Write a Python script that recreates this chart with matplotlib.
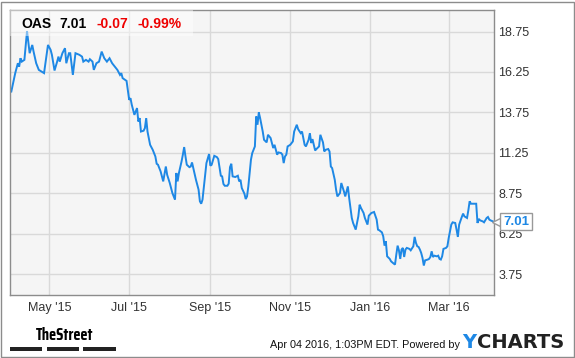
import pandas as pd
import matplotlib
matplotlib.use('Agg')
import matplotlib.pyplot as plt
import matplotlib.dates as mdates
from matplotlib.patches import Rectangle

plt.rcParams['font.family'] = ['Liberation Sans', 'DejaVu Sans']

# OAS daily close (days counted from 2015-04-01)
start_date = '2015-04-01'
day_offset = [
    1, 4, 6, 7, 8, 9, 11, 12, 13, 15, 17, 18, 20, 22, 24, 26, 29, 31, 32, 34,
    36, 37, 38, 40, 42, 43, 45, 46, 48, 50, 53, 55, 56, 58, 60, 61, 63, 64, 66, 68,
    70, 72, 74, 76, 78, 80, 82, 84, 85, 86, 88, 89, 91, 92, 93, 95, 97, 98, 99, 100,
    102, 103, 104, 105, 107, 109, 111, 112, 113, 115, 117, 119, 120, 122, 124, 126, 127, 128, 129, 131,
    132, 133, 134, 135, 137, 138, 139, 140, 142, 144, 145, 146, 147, 149, 150, 152, 153, 154, 156, 158,
    159, 161, 162, 163, 164, 166, 167, 168, 169, 170, 172, 174, 175, 176, 177, 179, 180, 181, 182, 184,
    185, 187, 188, 189, 190, 191, 193, 194, 196, 197, 199, 201, 202, 204, 205, 207, 208, 209, 210, 211,
    212, 214, 216, 217, 219, 220, 222, 223, 225, 226, 228, 229, 230, 231, 233, 234, 236, 237, 239, 240,
    241, 243, 244, 245, 246, 248, 249, 250, 252, 253, 255, 256, 258, 259, 261, 262, 264, 266, 267, 268,
    270, 271, 273, 274, 276, 278, 280, 281, 282, 284, 285, 286, 287, 288, 290, 291, 293, 294, 295, 296,
    297, 298, 299, 300, 301, 302, 303, 305, 306, 308, 309, 310, 311, 312, 313, 314, 315, 316, 317, 319,
    320, 321, 322, 323, 324, 326, 327, 328, 329, 330, 331, 333, 334, 335, 337, 338, 340, 341, 342, 343,
    345, 346, 347, 349, 350, 351, 352, 354, 356, 357, 358, 359, 361, 362, 364, 365, 366, 367, 369,
]
price = [
    15.04, 16.18, 16.79, 16.58, 17.10, 16.89, 17.00, 17.92, 18.78, 17.41, 17.92, 17.51, 16.79, 16.38, 16.28, 16.18, 17.92, 17.62, 17.31, 16.34,
    16.89, 17.20, 16.89, 17.41, 17.72, 16.79, 17.41, 17.41, 16.07, 17.41, 17.31, 17.20, 16.89, 17.00, 16.89, 17.04, 16.89, 16.38, 16.79, 16.89,
    17.51, 17.10, 16.89, 17.10, 16.79, 16.58, 16.38, 16.07, 16.18, 15.87, 15.76, 15.70, 14.53, 14.63, 14.22, 13.60, 14.02, 13.19, 13.40, 12.57,
    12.62, 12.78, 13.40, 12.57, 11.75, 11.44, 11.03, 10.58, 10.52, 10.11, 9.49, 10.41, 9.90, 9.39, 8.77, 8.36, 10.01, 9.49, 10.01, 10.72,
    11.14, 11.61, 11.03, 10.52, 10.37, 10.41, 10.66, 10.31, 9.59, 8.98, 8.26, 8.11, 8.36, 9.90, 10.62, 11.18, 10.46, 10.52, 11.07, 10.99,
    10.87, 9.84, 9.80, 9.33, 9.22, 9.22, 9.35, 10.37, 10.58, 9.80, 9.76, 9.84, 9.49, 9.59, 9.08, 8.73, 8.40, 8.56, 9.18, 10.83,
    11.24, 11.65, 13.50, 12.99, 13.75, 13.40, 12.57, 12.06, 11.90, 12.37, 12.17, 11.55, 11.75, 11.14, 11.28, 11.24, 11.14, 10.62, 11.03, 11.14,
    11.65, 11.75, 11.96, 12.57, 12.99, 12.72, 12.47, 12.57, 11.75, 11.65, 12.06, 12.47, 11.86, 12.10, 11.40, 11.49, 11.65, 12.37, 11.90, 11.34,
    11.44, 11.49, 11.34, 10.41, 10.31, 9.59, 8.98, 8.56, 8.77, 9.39, 8.87, 8.56, 9.18, 8.46, 7.23, 6.92, 6.51, 7.33, 8.05, 7.85,
    7.54, 7.23, 6.82, 7.37, 7.54, 7.60, 7.13, 6.51, 6.47, 6.34, 6.10, 5.52, 5.79, 4.86, 4.70, 4.55, 4.41, 4.35, 4.97, 5.52,
    5.23, 4.70, 5.28, 5.38, 4.82, 5.28, 5.38, 5.32, 5.23, 5.48, 6.06, 5.69, 5.48, 5.44, 5.28, 5.07, 4.76, 4.29, 4.61, 4.66,
    4.70, 4.82, 5.17, 4.82, 4.90, 4.86, 4.90, 4.70, 4.66, 4.86, 5.32, 5.38, 5.48, 5.99, 6.82, 6.96, 6.92, 6.51, 6.06, 6.82,
    7.29, 7.50, 7.33, 7.23, 7.70, 8.26, 8.11, 8.11, 8.11, 6.92, 7.17, 7.08, 7.02, 6.96, 7.23, 7.29, 7.13, 7.08, 7.01,
]

ticker = 'OAS'
last_price = '7.01'
change = '-0.07'
change_pct = '-0.99%'
y_ticks = [3.75, 6.25, 8.75, 11.25, 13.75, 16.25, 18.75]
x_ticks = ['2015-05-01', '2015-07-01', '2015-09-01', '2015-11-01', '2016-01-01', '2016-03-01']
stamp = 'Apr 04 2016, 1:03PM EDT. Powered by'

dates = pd.Timestamp(start_date) + pd.to_timedelta(day_offset, unit='D')

blue = '#1e88e5'
fig = plt.figure(figsize=(5.75, 3.58), dpi=100)
W, H = 575.0, 358.0
ax = fig.add_axes([10 / W, 1 - 295 / H, 484 / W, 285 / H])
ax.set_facecolor('#f5f5f5')

ax.plot(dates, price, color=blue, lw=1.4, solid_joinstyle='miter')

ax.set_xlim(pd.Timestamp(start_date), pd.Timestamp(start_date) + pd.Timedelta(days=369.6))
ax.set_ylim(2.47, 20.08)
ax.set_yticks(y_ticks)
ax.set_xticks(pd.to_datetime(x_ticks))
ax.xaxis.set_major_formatter(mdates.DateFormatter("%b '%y"))
ax.yaxis.tick_right()
ax.tick_params(length=0, labelsize=9, colors='#333333')
ax.tick_params(axis='y', pad=3)
ax.tick_params(axis='x', pad=5)
ax.grid(True, color='#d9d9d9', lw=1)
ax.set_axisbelow(True)
for s in ax.spines.values():
    s.set_color('#8c8c8c')
    s.set_linewidth(1)

# header box with quote
ax.add_patch(Rectangle((0, 1 - 26 / 285), 183 / 484, 26 / 285, transform=ax.transAxes,
                       facecolor='white', alpha=0.45, edgecolor='none', zorder=3))
hy = 1 - 14 / 285
for txt, x0, c in [(ticker, 11.5, 'black'), (last_price, 49.5, 'black'),
                   (change, 86.5, '#ee0000'), (change_pct, 127.5, '#ee0000')]:
    ax.text(x0 / 484, hy, txt, transform=ax.transAxes, fontsize=10, fontweight='bold',
            color=c, va='center', ha='left', zorder=4)

# last-price tag on the right axis
tr = ax.get_yaxis_transform()
ax.plot([1.0 + 2.6 / 484], [float(last_price)], transform=tr, marker='<', ms=6.5,
        mfc='white', mec='#999999', mew=1, clip_on=False, zorder=5)
ax.text(1.0 + 9 / 484, float(last_price), last_price, transform=tr, fontsize=9.5,
        fontweight='bold', color=blue, va='center', ha='left', zorder=6,
        bbox=dict(boxstyle='square,pad=0.2', fc='white', ec='#999999', lw=1))

# footer
fig.text(36 / W, 1 - 335 / H, 'TheStreet', fontsize=11.8, fontweight='bold',
         family=['Saira Condensed', 'Liberation Sans'], va='center', ha='left')
for x0, x1 in [(10.3, 42.3), (47, 79), (83.3, 115.7)]:
    fig.patches.append(Rectangle((x0 / W, 1 - 350.5 / H), (x1 - x0) / W, 3.5 / H,
                                 transform=fig.transFigure, facecolor='#222222', edgecolor='none'))
fig.text(460 / W, 1 - 348 / H, stamp, fontsize=7.8, color='#111111', va='baseline', ha='right')
ylogo = fig.text(462.5 / W, 1 - 348.3 / H, 'Y', fontsize=14, fontweight='bold', color=blue,
                 va='baseline', ha='left', family='DejaVu Sans')
ax.annotate('CHARTS', xy=(1, 0), xycoords=ylogo, xytext=(0.5, 0), textcoords='offset points',
            fontsize=14, fontweight='bold', color='#222222', va='bottom', ha='left',
            family='DejaVu Sans', annotation_clip=False)

# outer frame
fig.patches.append(Rectangle((1 / W, 1.5 / H), 572.5 / W, 355 / H, transform=fig.transFigure,
                             facecolor='none', edgecolor='#8c8c8c', lw=1))

fig.savefig('out.png', dpi=100)
